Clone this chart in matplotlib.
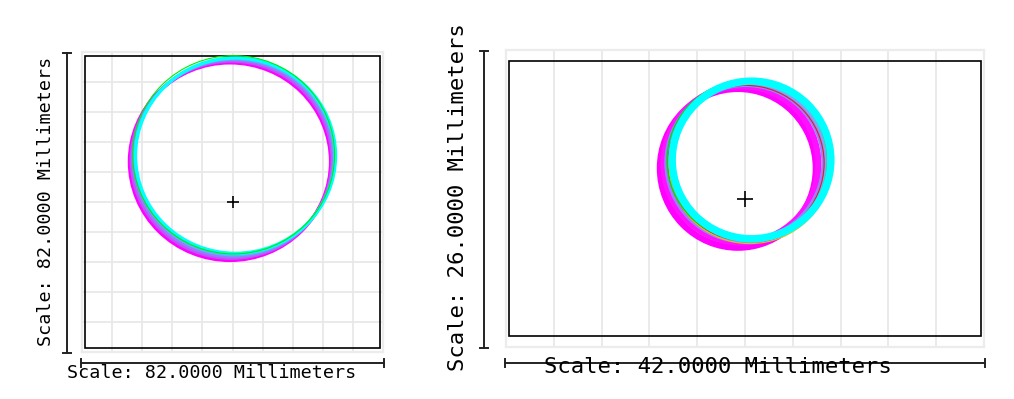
import matplotlib
matplotlib.use("Agg")
import matplotlib.pyplot as plt
from matplotlib.patches import Ellipse, Rectangle

W, H = 1014, 399

# left view: 82 x 82 mm, traces as (dx, dy, rx, ry) in mm from the cross
left_span = (82.0, 82.0)
left_stock = (80.2, 79.6)
left_dx = [-0.68, -0.3, 0.1, 0.45, 0.82, 0.3]
left_dy = [11.04, 11.5, 11.9, 12.3, 12.67, 12.9]
left_rx = [27.4, 27.35, 27.3, 27.3, 27.25, 27.5]
left_ry = [27.0, 26.95, 26.9, 26.8, 26.7, 27.1]
left_colors = ['#ff00ff', '#c050ff', '#9a78ff', '#60b0ff', '#00ffff', '#00ee00']
left_widths = [2.4, 2.0, 2.0, 2.0, 2.4, 0.8]

# right view: 42 x 26 mm
right_span = (42.0, 26.0)
right_stock = (41.4, 24.0)
right_dx = [-0.62, -0.35, 0.05, 0.3, 0.1, 0.45, 0.2, 0.57]
right_dy = [2.65, 3.0, 3.15, 3.25, 3.1, 3.05, 3.35, 3.37]
right_rx = [6.85, 6.8, 6.9, 6.9, 6.85, 7.15, 7.05, 6.97]
right_ry = [6.95, 6.85, 6.85, 6.85, 6.8, 7.0, 7.0, 6.9]
right_colors = ['#ff00ff', '#ff10ff', '#9a80ff', '#80a8f0', '#dd2222',
                '#e8c000', '#00dd00', '#00ffff']
right_widths = [4.6, 4.4, 4.0, 3.0, 0.8, 0.8, 0.9, 5.4]


def px_box(x0, y0, x1, y1):
    return [x0 / W, 1 - y1 / H, (x1 - x0) / W, (y1 - y0) / H]


def draw_view(ax, span, stock, dx, dy, rx, ry, colors, widths, hgrid, cross):
    sx, sy = span
    ax.set_xlim(-sx / 2, sx / 2)
    ax.set_ylim(-sy / 2, sy / 2)
    ax.set_xticks([-sx / 2 + sx / 10 * i for i in range(1, 10)])
    ax.set_yticks([-sy / 2 + sx / 10 * i for i in range(1, 10)] if hgrid else [])
    ax.tick_params(length=0, labelbottom=False, labelleft=False)
    ax.grid(True, color='#e8e8e8', linewidth=1.3)
    ax.grid(hgrid, axis='y', color='#e8e8e8', linewidth=1.3)
    for s in ax.spines.values():
        s.set_color('#ececec')
        s.set_linewidth(1.6)
    ax.add_patch(Rectangle((-stock[0] / 2, -stock[1] / 2), stock[0], stock[1],
                           fill=False, edgecolor='black', linewidth=1.2, zorder=3))
    for i in range(len(dx)):
        ax.add_patch(Ellipse((dx[i], dy[i]), 2 * rx[i], 2 * ry[i], fill=False,
                             edgecolor=colors[i], linewidth=widths[i], zorder=4))
    ax.plot([0], [0], marker='+', color='black', markersize=cross,
            markeredgewidth=1.2, zorder=5)


def scale_bars(fig, box, gap_v, gap_h, ext, cap):
    x0, y0, x1, y1 = box
    kw = dict(color='#222222', linewidth=1.4, transform=fig.transFigure)
    vx = (x0 - gap_v) / W
    fig.add_artist(plt.Line2D([vx, vx], [1 - (y0 + ext) / H, 1 - (y1 + ext) / H], **kw))
    for yy in (y0 + ext, y1 + ext):
        fig.add_artist(plt.Line2D([vx - cap / W, vx + cap / W], [1 - yy / H] * 2, **kw))
    hy = 1 - (y1 + gap_h) / H
    fig.add_artist(plt.Line2D([(x0 - ext) / W, (x1 + ext) / W], [hy, hy], **kw))
    for xx in (x0 - ext, x1 + ext):
        fig.add_artist(plt.Line2D([xx / W] * 2, [hy - cap / H, hy + cap / H], **kw))


fig = plt.figure(figsize=(W / 100, H / 100), dpi=100)

left_box = (82, 52, 383, 352)
right_box = (506, 50, 984, 347)

ax1 = fig.add_axes(px_box(*left_box))
draw_view(ax1, left_span, left_stock, left_dx, left_dy, left_rx, left_ry,
          left_colors, left_widths, True, 9)
ax2 = fig.add_axes(px_box(*right_box))
draw_view(ax2, right_span, right_stock, right_dx, right_dy, right_rx, right_ry,
          right_colors, right_widths, False, 11)

scale_bars(fig, left_box, 15, 11, 1, 4)
scale_bars(fig, right_box, 22, 16, 1, 4)

mono = 'DejaVu Sans Mono'
fig.text(211.5 / W, 1 - 378 / H, 'Scale: %.4f Millimeters' % left_span[0],
         family=mono, fontsize=13.2, ha='center', va='baseline', color='black')
fig.text(46 / W, 1 - 201.5 / H, 'Scale: %.4f Millimeters' % left_span[1],
         family=mono, fontsize=13.2, ha='center', va='center', rotation=90,
         color='black')
fig.text(717.5 / W, 1 - 373 / H, 'Scale: %.4f Millimeters' % right_span[0],
         family=mono, fontsize=16, ha='center', va='baseline', color='black')
fig.text(458 / W, 1 - 197 / H, 'Scale: %.4f Millimeters' % right_span[1],
         family=mono, fontsize=16, ha='center', va='center', rotation=90,
         color='black')

fig.savefig('out.png', dpi=100)
